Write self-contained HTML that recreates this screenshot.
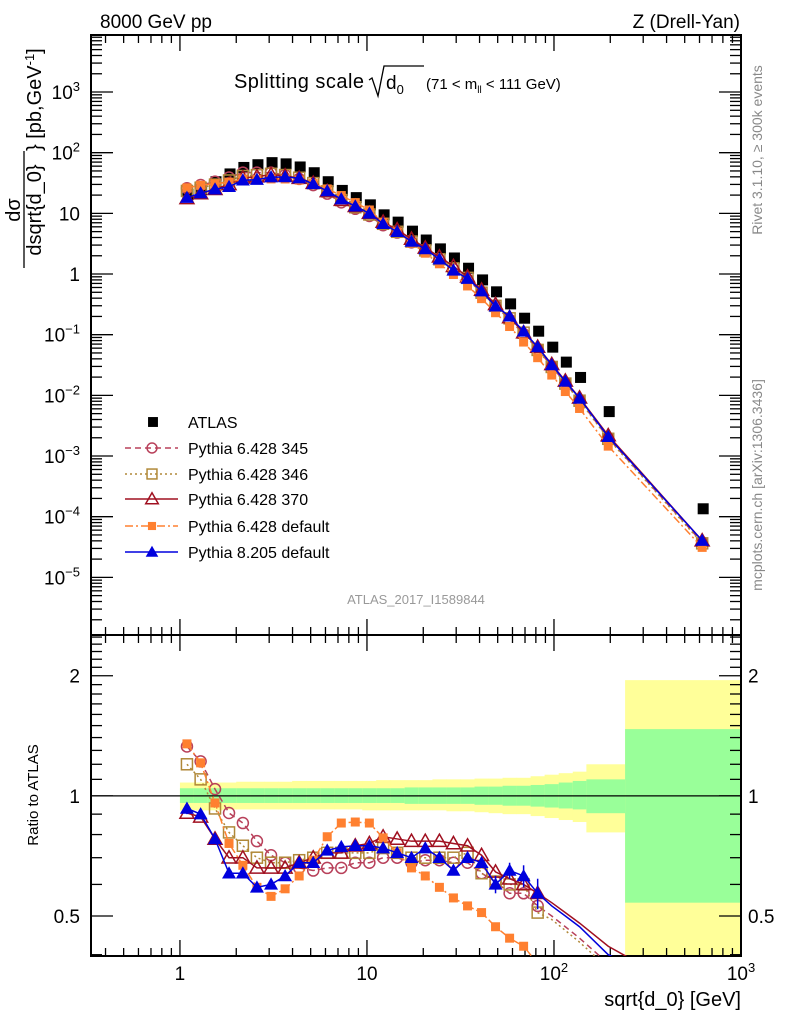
<!DOCTYPE html>
<html><head><meta charset="utf-8"><style>
body{margin:0;background:#fff}
svg text{font-family:"Liberation Sans",sans-serif}
</style></head><body>
<svg id="c" width="786" height="1024" viewBox="0 0 786 1024" xmlns="http://www.w3.org/2000/svg">
<text x="100" y="28" font-size="19">8000 GeV pp</text>
<text x="740" y="28" font-size="19" text-anchor="end">Z (Drell-Yan)</text>
<text x="234" y="88" font-size="20" textLength="130">Splitting scale</text>
<path d="M369,80 l3,-2 l6,18 l6,-30 h40" fill="none" stroke="#000" stroke-width="1.3"/>
<text x="386" y="89" font-size="19">d<tspan font-size="13" dy="5">0</tspan></text>
<text x="426" y="89" font-size="15">(71 &lt; m<tspan font-size="10" dy="4">ll</tspan><tspan dy="-4"> &lt; 111 GeV)</tspan></text>
<text x="416" y="604" font-size="13" fill="#999" text-anchor="middle">ATLAS_2017_I1589844</text>
<text transform="translate(762,150) rotate(-90)" font-size="14" fill="#888" text-anchor="middle">Rivet 3.1.10, ≥ 300k events</text>
<text transform="translate(762,485) rotate(-90)" font-size="14" fill="#888" text-anchor="middle">mcplots.cern.ch [arXiv:1306.3436]</text>
<g>
<text transform="translate(20,210) rotate(-90)" font-size="20" text-anchor="middle">dσ</text>
<line x1="24" y1="268" x2="24" y2="151" stroke="#000" stroke-width="1.3"/>
<text transform="translate(41,210) rotate(-90)" font-size="20" text-anchor="middle">dsqrt{d_0}</text>
<text transform="translate(41,151) rotate(-90)" font-size="20" text-anchor="start">} [pb,GeV<tspan font-size="13" dy="-7">-1</tspan><tspan dy="7">]</tspan></text>
</g>
<text transform="translate(38,795) rotate(-90)" font-size="15" text-anchor="middle">Ratio to ATLAS</text>
<text x="741" y="1006" font-size="20" text-anchor="end">sqrt{d_0} [GeV]</text>
<g id="g"></g>
</svg>
<script>
const xs=[1.09,1.29,1.54,1.83,2.17,2.58,3.07,3.65,4.34,5.16,6.13,7.29,8.66,10.3,12.2,14.5,17.3,20.5,24.4,29.0,34.5,41.0,48.7,57.9,68.8,81.8,97.3,115,137,195,620];
const atlas=[19.5,24,32,43,55,61,66,63,56,45,32,23,17.5,13.3,9.1,6.9,4.9,3.5,2.5,1.77,1.2,0.77,0.49,0.31,0.18,0.11,0.06,0.034,0.019,0.0052,0.00013];
const r345=[1.33,1.22,1.04,0.906,0.855,0.77,0.71,0.68,0.66,0.65,0.66,0.66,0.68,0.68,0.70,0.70,0.68,0.69,0.69,0.68,0.68,0.64,0.61,0.57,0.57,0.53,0.50,0.47,0.44,0.38,0.29];
const r346=[1.20,1.10,0.93,0.81,0.75,0.70,0.68,0.68,0.69,0.70,0.72,0.72,0.72,0.72,0.74,0.72,0.70,0.70,0.70,0.70,0.72,0.64,0.61,0.60,0.60,0.51,0.49,0.46,0.43,0.37,0.28];
const r370=[0.906,0.886,0.78,0.70,0.70,0.66,0.66,0.66,0.68,0.70,0.72,0.72,0.75,0.76,0.79,0.78,0.77,0.77,0.77,0.76,0.75,0.71,0.645,0.62,0.60,0.57,0.54,0.51,0.48,0.42,0.31];
const r6def=[1.35,1.21,0.96,0.76,0.67,0.59,0.56,0.585,0.63,0.69,0.79,0.855,0.86,0.855,0.785,0.72,0.66,0.63,0.59,0.555,0.53,0.51,0.47,0.44,0.42,0.38,0.36,0.34,0.32,0.28,0.24];
const r8def=[0.93,0.90,0.78,0.64,0.64,0.59,0.60,0.63,0.68,0.68,0.73,0.745,0.75,0.75,0.74,0.72,0.70,0.74,0.70,0.65,0.70,0.68,0.60,0.65,0.63,0.57,0.53,0.50,0.47,0.40,0.31];
const r8err=[0.03,0.02,0.01,0.01,0.01,0.01,0.01,0.01,0.01,0.01,0.01,0.01,0.01,0.01,0.01,0.01,0.01,0.01,0.01,0.01,0.02,0.02,0.03,0.03,0.04,0.05,0.05,0.06,0.07,0.08,0.1];
const yUp=[1.08,1.08,1.08,1.08,1.085,1.085,1.085,1.085,1.09,1.09,1.09,1.09,1.09,1.09,1.095,1.095,1.095,1.095,1.10,1.10,1.10,1.105,1.105,1.11,1.11,1.12,1.13,1.14,1.15,1.20,1.95];
const yDn=[0.92,0.92,0.92,0.925,0.925,0.925,0.925,0.925,0.925,0.925,0.925,0.925,0.925,0.92,0.92,0.92,0.92,0.92,0.92,0.915,0.915,0.91,0.905,0.90,0.90,0.89,0.88,0.87,0.86,0.81,0.30];
const gUp=[1.045,1.045,1.045,1.045,1.045,1.045,1.045,1.045,1.045,1.045,1.045,1.045,1.045,1.045,1.045,1.045,1.05,1.05,1.05,1.05,1.05,1.055,1.055,1.06,1.06,1.065,1.07,1.08,1.09,1.10,1.47];
const gDn=[0.96,0.96,0.96,0.96,0.96,0.96,0.96,0.96,0.96,0.96,0.96,0.96,0.96,0.96,0.96,0.96,0.955,0.955,0.955,0.955,0.955,0.95,0.95,0.945,0.945,0.94,0.935,0.93,0.925,0.905,0.54];
const binEdges=[1.0,1.18,1.41,1.68,2.0,2.37,2.82,3.35,3.98,4.73,5.62,6.68,7.94,9.44,11.2,13.3,15.9,18.8,22.4,26.6,31.6,37.6,44.7,53.1,63.1,75.0,89.1,106,126,149,240,1000];
const nRatioMarkers=26;
const yTickLabels=[["10","3"],["10","2"],["10",""],["1",""],["10","−1"],["10","−2"],["10","−3"],["10","−4"],["10","−5"]];
const yTickExps=[3,2,1,0,-1,-2,-3,-4,-5];
const xTickLabels=[["1",""],["10",""],["10","2"],["10","3"]];
const xTickExps=[0,1,2,3];
const ratioTicks=[2,1,0.5];
const ratioTickLabels=["2","1","0.5"];

const L=91,R=741,T=35,M=635,B=956;
const lxMin=Math.log10(0.3345),lxMax=3;
const X=v=>L+(Math.log10(v)-lxMin)/(lxMax-lxMin)*(R-L);
const lyMax=3.94,lyMin=-5.95;
const Y=v=>T+(lyMax-Math.log10(v))/(lyMax-lyMin)*(M-T);
const lrMax=Math.log10(2.53),lrMin=Math.log10(0.397);
const RY=v=>M+(lrMax-Math.log10(v))/(lrMax-lrMin)*(B-M);
const NS="http://www.w3.org/2000/svg";
const g=document.getElementById('g');
function mk(t,a,p){const e=document.createElementNS(NS,t);for(const k in a)e.setAttribute(k,a[k]);(p||g).appendChild(e);return e;}
const defs=mk('defs',{});
const c1=mk('clipPath',{id:'cm'},defs);mk('rect',{x:L,y:T,width:R-L,height:M-T},c1);
const c2=mk('clipPath',{id:'cr'},defs);mk('rect',{x:L,y:M,width:R-L,height:B-M},c2);

const bands=mk('g',{'clip-path':'url(#cr)'});


for(let i=0;i<xs.length;i++){
  const x0=X(binEdges[i]),x1=X(binEdges[i+1]);
  const ry=mk('rect',{x:x0,y:RY(yUp[i]),width:x1-x0+0.5,height:RY(yDn[i])-RY(yUp[i]),fill:'#ffff99'},bands);
  
  
  const rg=mk('rect',{x:x0,y:RY(gUp[i]),width:x1-x0+0.5,height:RY(gDn[i])-RY(gUp[i]),fill:'#99ff99'},bands);
  
  
}
const one=mk('line',{x1:L,x2:R,y1:RY(1),y2:RY(1),stroke:'#000','stroke-width':1.3});



function frame(y0,y1,name){const f=mk('rect',{x:L,y:y0,width:R-L,height:y1-y0,fill:'none',stroke:'#000','stroke-width':2});
}
frame(T,M,'main-frame');frame(M,B,'ratio-frame');
const ax=mk('g',{stroke:'#000','stroke-width':1.3});


for(let d=-1;d<3;d++)for(let k=1;k<10;k++){const v=k*Math.pow(10,d);if(v<0.3345||v>1000)continue;const x=X(v);const len=k===1?16:8;
 [[T,1],[M,-1],[M,1],[B,-1]].forEach(([y,s])=>mk('line',{x1:x,x2:x,y1:y,y2:y+s*len},ax));}
for(let d=-6;d<4;d++)for(let k=1;k<10;k++){const v=k*Math.pow(10,d);const lv=Math.log10(v);if(lv<lyMin||lv>lyMax)continue;const y=Y(v);const len=k===1?22:11;
 mk('line',{x1:L,x2:L+len,y1:y,y2:y},ax);mk('line',{x1:R,x2:R-len,y1:y,y2:y},ax);}
[0.4,0.5,0.6,0.7,0.8,0.9,1,1.1,1.2,1.3,1.4,1.5,1.6,1.7,1.8,1.9,2,2.1,2.2,2.3,2.4,2.5].forEach(v=>{const y=RY(v);const len=(v===0.5||v===1||v===2)?22:11;
 mk('line',{x1:L,x2:L+len,y1:y,y2:y},ax);mk('line',{x1:R,x2:R-len,y1:y,y2:y},ax);});
yTickExps.forEach((e,i)=>{const t=mk('text',{x:80,y:Y(Math.pow(10,e))+7,'font-size':19,'text-anchor':'end'});
 
 const a=mk('tspan',{},t);a.textContent=yTickLabels[i][0];
 if(yTickLabels[i][1]){const b=mk('tspan',{'font-size':13,dy:-8},t);b.textContent=yTickLabels[i][1];}});
xTickExps.forEach((e,i)=>{const t=mk('text',{x:X(Math.pow(10,e)),y:980,'font-size':19,'text-anchor':'middle'});
 
 const a=mk('tspan',{},t);a.textContent=xTickLabels[i][0];if(xTickLabels[i][1]){const b=mk('tspan',{'font-size':13,dy:-8},t);b.textContent=xTickLabels[i][1];}});
ratioTicks.forEach((v,i)=>{[[80,'end'],[748,'start']].forEach(([x,a])=>{const t=mk('text',{x:x,y:RY(v)+7,'font-size':19,'text-anchor':a});
 t.textContent=ratioTickLabels[i];});});

const series=[
 {name:'pythia-6428-345',r:r345,col:'#b8405a',dash:'6,4',m:'circle-open'},
 {name:'pythia-6428-346',r:r346,col:'#b08838',dash:'2,3',m:'square-open'},
 {name:'pythia-6428-370',r:r370,col:'#a01020',dash:'',m:'tri-open'},
 {name:'pythia-6428-default',r:r6def,col:'#ff8030',dash:'8,3,2,3',m:'square'},
 {name:'pythia-8205-default',r:r8def,col:'#0000dd',dash:'',m:'tri'}];
function marker(p,m,x,y,col,s){
 s=s||1;
 if(m==='circle-open')return mk('circle',{cx:x,cy:y,r:5.5*s,fill:'none',stroke:col,'stroke-width':1.5},p);
 if(m==='square-open')return mk('rect',{x:x-5.5*s,y:y-5.5*s,width:11*s,height:11*s,fill:'none',stroke:col,'stroke-width':1.5},p);
 if(m==='square')return mk('rect',{x:x-4.5*s,y:y-4.5*s,width:9*s,height:9*s,fill:col},p);
 if(m==='sqblack')return mk('rect',{x:x-5.5*s,y:y-5.5*s,width:11*s,height:11*s,fill:'#000'},p);
 const h=7*s;const pts=`${x-h},${y+h*0.75} ${x+h},${y+h*0.75} ${x},${y-h}`;
 if(m==='tri-open')return mk('polygon',{points:pts,fill:'none',stroke:col,'stroke-width':1.5},p);
 return mk('polygon',{points:pts,fill:col},p);
}
const ga=mk('g',{'clip-path':'url(#cm)'});


xs.forEach((x,i)=>{const e=marker(ga,'sqblack',X(x)+1,Y(atlas[i])-1,'#000');
 });
series.forEach(s=>{
 const gm=mk('g',{'clip-path':'url(#cm)'});
 
 
 const pm=xs.map((x,i)=>`${X(x)},${Y(atlas[i]*s.r[i])}`).join(' ');
 const l1=mk('polyline',{points:pm,fill:'none',stroke:s.col,'stroke-width':1.5,'stroke-dasharray':s.dash},gm);
 
 xs.forEach((x,i)=>{const e=marker(gm,s.m,X(x),Y(atlas[i]*s.r[i]),s.col);
  });
 const gr=mk('g',{'clip-path':'url(#cr)'});
 
 
 const pr=xs.map((x,i)=>`${X(x)},${RY(s.r[i])}`).join(' ');
 const l2=mk('polyline',{points:pr,fill:'none',stroke:s.col,'stroke-width':1.5,'stroke-dasharray':s.dash},gr);
 
 xs.forEach((x,i)=>{if(i>=nRatioMarkers)return;
  if(s.r===r8def){const eb=mk('line',{x1:X(x),x2:X(x),y1:RY(s.r[i]+r8err[i]),y2:RY(s.r[i]-r8err[i]),stroke:s.col,'stroke-width':1.5},gr);
   }
  const e=marker(gr,s.m,X(x),RY(s.r[i]),s.col);
  });
});
const lg=mk('g',{});


const legNames=['ATLAS','Pythia 6.428 345','Pythia 6.428 346','Pythia 6.428 370','Pythia 6.428 default','Pythia 8.205 default'];
const legY=[422,448,474,499,526,552];
legNames.forEach((n,i)=>{
 const row=mk('g',{},lg);
 
 
 if(i===0){marker(row,'sqblack',153,legY[i],'#000',0.9);}
 else{const s=series[i-1];mk('line',{x1:125,x2:178,y1:legY[i],y2:legY[i],stroke:s.col,'stroke-width':1.5,'stroke-dasharray':s.dash},row);marker(row,s.m,152,legY[i],s.col,0.9);}
 const t=mk('text',{x:188,y:legY[i]+6,'font-size':16},row);t.textContent=n;
});
</script>
</body></html>
